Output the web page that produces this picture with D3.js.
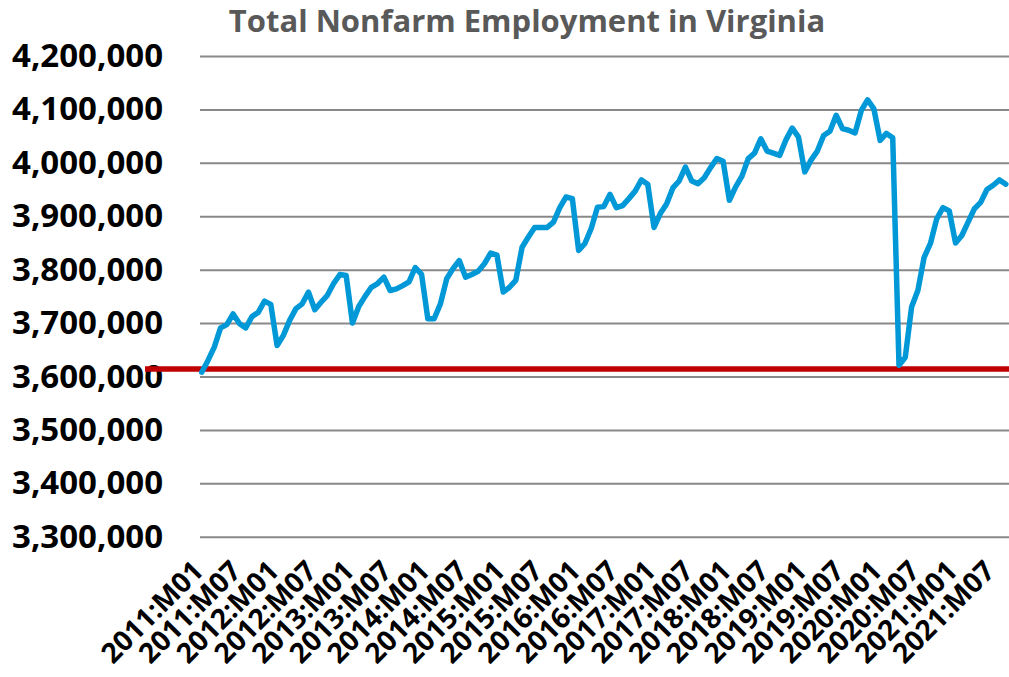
<!DOCTYPE html>
<html>
<head>
<meta charset="utf-8">
<script src="https://cdn.jsdelivr.net/npm/d3@7"></script>
<style>
  body { margin: 0; background: #fff; }
  svg { display: block; font-family: "Open Sans", sans-serif; }
</style>
</head>
<body>
<div id="chart"></div>
<script>
(function () {

	// months 2011:M01 .. 2021:M09
	var startYear = 2011, nMonths = 129;
	var months = [];
	for (var i = 0; i < nMonths; i++) {
		var y = startYear + Math.floor(i / 12), m = (i % 12) + 1;
		months.push(y + ":M" + (m < 10 ? "0" + m : m));
	}

	// total nonfarm employment
	var employment = [
		3608000, 3630000, 3655000, 3691000, 3697000, 3717000, 3699000, 3691000, 3712000, 3720000, 3741000, 3735000,
		3658000, 3677000, 3705000, 3727000, 3736000, 3758000, 3725000, 3739000, 3752000, 3774000, 3791000, 3789000,
		3700000, 3731000, 3750000, 3767000, 3774000, 3786000, 3761000, 3764000, 3770000, 3777000, 3804000, 3791000,
		3708000, 3708000, 3736000, 3783000, 3802000, 3817000, 3786000, 3791000, 3797000, 3811000, 3831000, 3827000,
		3758000, 3767000, 3780000, 3842000, 3861000, 3879000, 3879000, 3879000, 3889000, 3916000, 3936000, 3933000,
		3836000, 3849000, 3877000, 3917000, 3918000, 3941000, 3916000, 3920000, 3933000, 3947000, 3968000, 3960000,
		3879000, 3905000, 3923000, 3953000, 3966000, 3992000, 3966000, 3961000, 3972000, 3991000, 4008000, 4003000,
		3930000, 3955000, 3975000, 4008000, 4018000, 4045000, 4022000, 4018000, 4014000, 4043000, 4065000, 4048000,
		3983000, 4005000, 4022000, 4051000, 4059000, 4089000, 4064000, 4061000, 4056000, 4098000, 4118000, 4101000,
		4042000, 4055000, 4047000, 3621000, 3636000, 3730000, 3761000, 3823000, 3849000, 3895000, 3916000, 3910000,
		3850000, 3864000, 3889000, 3914000, 3926000, 3950000, 3958000, 3968000, 3960000
	];

	var redLevel = 3614000;
	var yTicks = [3300000, 3400000, 3500000, 3600000, 3700000, 3800000, 3900000, 4000000, 4100000, 4200000];
	var xTickLabels = months.filter(function (d, i) { return i % 6 === 0; });

	var W = 1009, H = 677;
	var plotLeft = 200, plotRight = 1009;

	var svg = d3.select("#chart")
		.append("svg")
		.attr("width", W)
		.attr("height", H);

	var x = d3.scalePoint()
		.domain(months)
		.range([201.7, 1005.8]);

	var y = d3.scaleLinear()
		.domain([3300000, 4200000])
		.range([536.7, 56]);

	// title
	svg.append("text")
		.attr("x", 527)
		.attr("y", 32)
		.attr("text-anchor", "middle")
		.attr("font-size", "31px")
		.attr("font-weight", "bold")
		.attr("fill", "#595959")
		.text("Total Nonfarm Employment in Virginia");

	// y axis + gridlines
	var yAxis = svg.append("g")
		.attr("transform", "translate(" + plotLeft + ",0)")
		.call(d3.axisLeft(y)
			.tickValues(yTicks)
			.tickFormat(d3.format(","))
			.tickSize(-(plotRight - plotLeft))
			.tickPadding(37));
	yAxis.select(".domain").remove();
	yAxis.selectAll(".tick line")
		.attr("stroke", "#898989")
		.attr("stroke-width", 2);
	yAxis.selectAll(".tick text")
		.attr("fill", "#000")
		.attr("font-size", "33px")
		.attr("font-weight", "bold")
		.attr("font-family", "Open Sans, sans-serif");

	// x axis labels, every 6 months
	var xAxis = svg.append("g")
		.attr("transform", "translate(0," + 536.7 + ")")
		.call(d3.axisBottom(x)
			.tickValues(xTickLabels)
			.tickSize(0)
			.tickPadding(0));
	xAxis.select(".domain").remove();
	xAxis.selectAll(".tick text")
		.attr("fill", "#000")
		.attr("font-size", "28px")
		.attr("font-weight", "bold")
		.attr("font-family", "Open Sans, sans-serif")
		.attr("text-anchor", "end")
		.attr("dy", "0.35em")
		.attr("transform", "translate(-4,29) rotate(-45)");

	// red reference line
	svg.append("line")
		.attr("x1", 145)
		.attr("x2", W)
		.attr("y1", y(redLevel))
		.attr("y2", y(redLevel))
		.attr("stroke", "#C00000")
		.attr("stroke-width", 5.5);

	// employment line
	var line = d3.line()
		.x(function (d, i) { return x(months[i]); })
		.y(function (d) { return y(d); });

	svg.append("path")
		.datum(employment)
		.attr("d", line)
		.attr("fill", "none")
		.attr("stroke", "#0098D6")
		.attr("stroke-width", 5.5)
		.attr("stroke-linejoin", "round")
		.attr("stroke-linecap", "round");

})();
</script>
</body>
</html>
